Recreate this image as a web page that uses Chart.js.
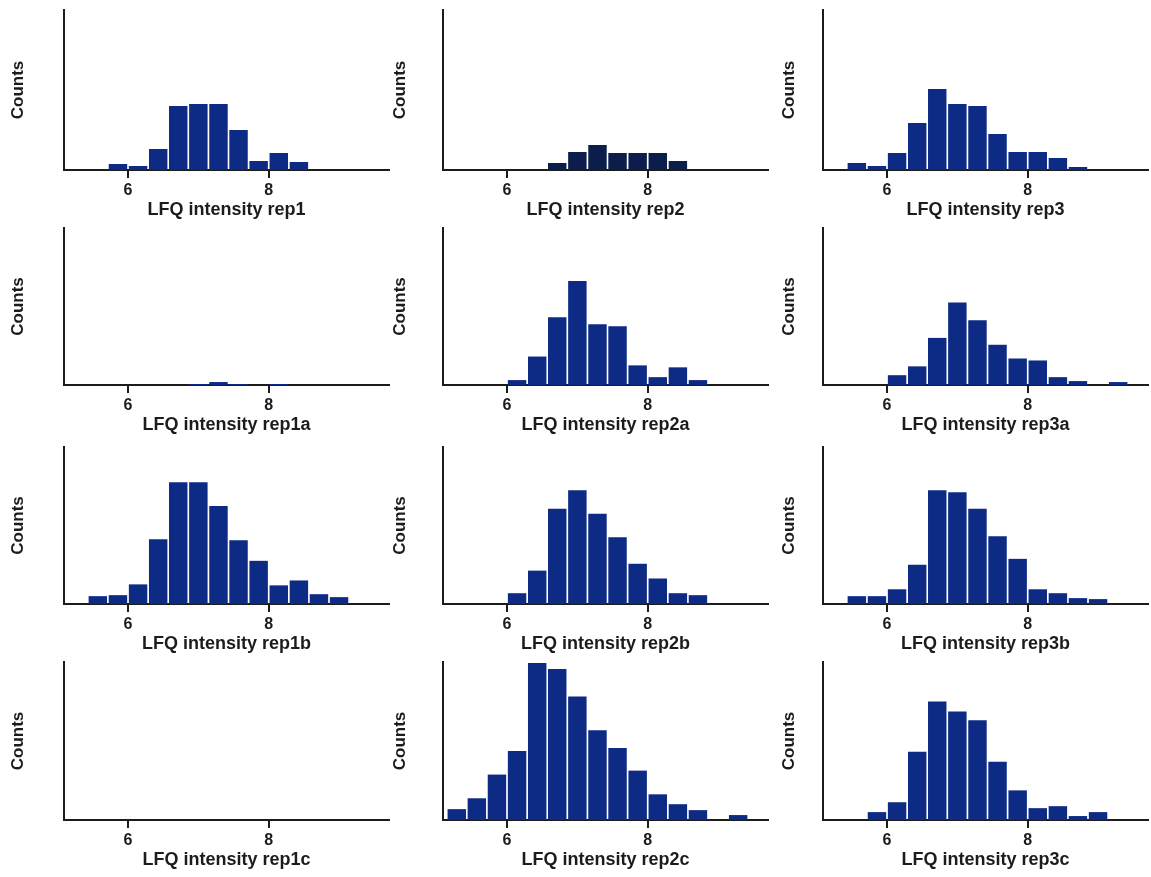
<!DOCTYPE html>
<html>
<head>
<meta charset="utf-8">
<script src="https://cdn.jsdelivr.net/npm/chart.js@4.4.1/dist/chart.umd.min.js"></script>
<style>
  html, body { margin: 0; padding: 0; background: #fff; }
  #wrap { position: relative; width: 1151px; height: 877px; overflow: hidden; }
  #wrap canvas { position: absolute; }
</style>
</head>
<body>
<div id="wrap"></div>
<script>
// bin centres - bins are 2/7 wide and their edges fall on 6 and 8
const binCenters = [5.286, 5.571, 5.857, 6.143, 6.429, 6.714, 7.000, 7.286, 7.571, 7.857, 8.143, 8.429, 8.714, 9.000, 9.286, 9.571];
const xTicks = [6, 8];

const panelNames = ['rep1', 'rep2', 'rep3', 'rep1a', 'rep2a', 'rep3a', 'rep1b', 'rep2b', 'rep3b', 'rep1c', 'rep2c', 'rep3c'];

// counts per bin
const rep1  = [0, 0, 6, 4, 21, 64, 66, 66, 40, 9, 17, 8, 0, 0, 0, 0];
const rep2  = [0, 0, 0, 0, 0, 7, 18, 25, 17, 17, 17, 9, 0, 0, 0, 0];
const rep3  = [0, 7, 4, 17, 47, 81, 66, 64, 36, 18, 18, 12, 3, 0, 0, 0];
const rep1a = [0, 0, 0, 0, 0, 0, 1, 3, 1, 0, 1, 0, 0, 0, 0, 0];
const rep2a = [0, 0, 0, 5, 29, 69, 106, 62, 60, 20, 8, 18, 5, 0, 0, 0];
const rep3a = [0, 0, 0, 10, 19, 48, 84, 66, 41, 27, 25, 8, 4, 0, 3, 0];
const rep1b = [0, 8, 9, 20, 66, 124, 124, 100, 65, 44, 19, 24, 10, 7, 0, 0];
const rep2b = [0, 0, 0, 11, 34, 97, 116, 92, 68, 41, 26, 11, 9, 0, 0, 0];
const rep3b = [0, 8, 8, 15, 40, 116, 114, 97, 69, 46, 15, 11, 6, 5, 0, 0];
const rep1c = [0, 0, 0, 0, 0, 0, 0, 0, 0, 0, 0, 0, 0, 0, 0, 0];
const rep2c = [11, 22, 46, 70, 159, 153, 125, 91, 73, 50, 26, 16, 10, 0, 5, 0];
const rep3c = [0, 0, 8, 18, 69, 120, 110, 101, 59, 30, 12, 14, 4, 8, 0, 0];

const series = [rep1, rep2, rep3, rep1a, rep2a, rep3a, rep1b, rep2b, rep3b, rep1c, rep2c, rep3c];
const yMax = 160;

// layout of the 4x3 grid
const colLeft = [0, 390, 775];
const plotLeft = [64, 443, 823];
const plotRight = [389, 768, 1148];
const countsPad = [8, 0, 4];
const rowTop = [10, 228, 447, 662];
const rowBase = [170, 385, 604, 820];
const axisH = 52;

const ink = '#1c1c1c';
const barColor = '#0d2a85';
const darkBar = '#0b1e4b';
const fontFam = "'Liberation Sans', Arial, sans-serif";

const wrap = document.getElementById('wrap');

series.forEach((counts, i) => {
    const col = i % 3, row = Math.floor(i / 3);
    const left = colLeft[col];
    const canvas = document.createElement('canvas');
    canvas.width = plotRight[col] + 2 - left;
    canvas.height = rowBase[row] - rowTop[row] + 4 + axisH;
    canvas.style.left = left + 'px';
    canvas.style.top = (rowTop[row] - 4) + 'px';
    wrap.appendChild(canvas);

    new Chart(canvas, {
        type: 'bar',
        data: {
            datasets: [{
                data: binCenters.map((x, j) => ({ x: x, y: counts[j] })),
                backgroundColor: panelNames[i] === 'rep2' ? darkBar : barColor,
                borderWidth: 0,
                barPercentage: 0.92,
                categoryPercentage: 1
            }]
        },
        options: {
            responsive: false,
            animation: false,
            devicePixelRatio: 1,
            layout: { padding: { top: 4, right: 2, left: 0, bottom: 0 } },
            plugins: {
                legend: { display: false },
                tooltip: { enabled: false }
            },
            scales: {
                x: {
                    type: 'linear',
                    min: 5.09,
                    max: 9.71,
                    offset: false,
                    afterBuildTicks: s => { s.ticks = xTicks.map(v => ({ value: v })); },
                    afterFit: s => { s.height = axisH; },
                    ticks: {
                        color: ink,
                        padding: 3,
                        maxRotation: 0,
                        font: { family: fontFam, size: 16, weight: 'bold' }
                    },
                    grid: {
                        display: true,
                        offset: false,
                        drawOnChartArea: false,
                        drawTicks: true,
                        tickLength: 8,
                        color: ink,
                        lineWidth: 2
                    },
                    border: { display: true, color: ink, width: 2 },
                    title: {
                        display: true,
                        text: 'LFQ intensity ' + panelNames[i],
                        color: ink,
                        padding: { top: 0, bottom: 1 },
                        font: { family: fontFam, size: 18, weight: 'bold' }
                    }
                },
                y: {
                    min: 0,
                    max: yMax,
                    afterFit: s => { s.width = plotLeft[col] - left; },
                    ticks: { display: false },
                    grid: { display: false },
                    border: { display: true, color: ink, width: 2 },
                    title: {
                        display: true,
                        text: 'Counts',
                        color: ink,
                        padding: { top: countsPad[col], bottom: 0 },
                        font: { family: fontFam, size: 17, weight: 'bold' }
                    }
                }
            }
        }
    });
});
</script>
</body>
</html>
